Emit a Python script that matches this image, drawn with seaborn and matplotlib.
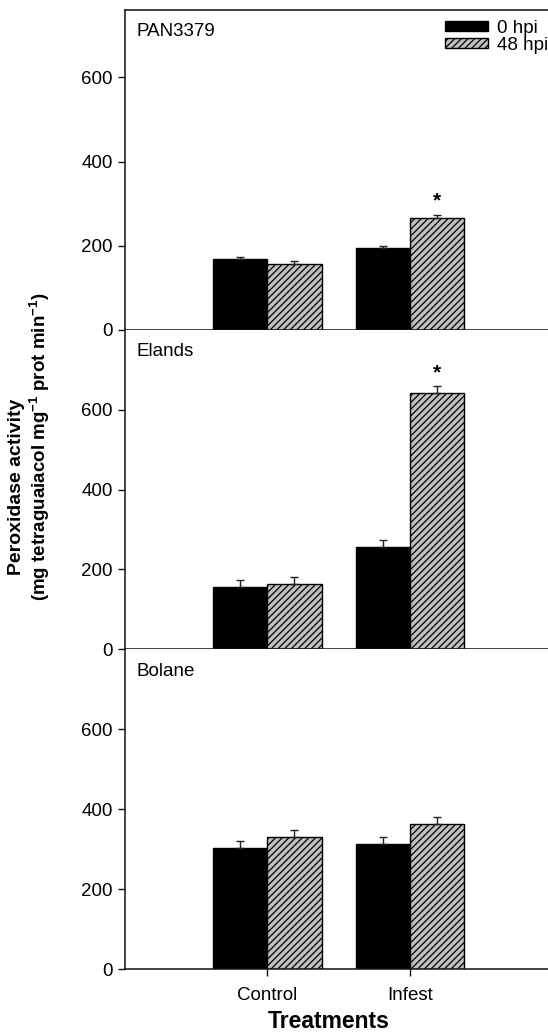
import numpy as np
import pandas as pd
import matplotlib
matplotlib.use("Agg")
import matplotlib.pyplot as plt
from matplotlib.patches import Patch
import seaborn as sns

# values (means and upper SE)
treatments = ["Control", "Infest"]
times = ["0 hpi", "48 hpi"]
cultivars = ["PAN3379", "Elands", "Bolane"]

pan_0 = [168, 194]
pan_48 = [157, 267]
pan_0_err = [5, 5]
pan_48_err = [6, 6]

elands_0 = [155, 256]
elands_48 = [162, 641]
elands_0_err = [17, 17]
elands_48_err = [19, 18]

bolane_0 = [302, 312]
bolane_48 = [329, 362]
bolane_0_err = [18, 18]
bolane_48_err = [18, 18]

# significant bars (cultivar, treatment) for the 48 hpi series
stars = [("PAN3379", "Infest"), ("Elands", "Infest")]

yticks = [0, 200, 400, 600]
ylims = {"PAN3379": 760, "Elands": 800, "Bolane": 800}


def make_df():
    rows = []
    series = {
        "PAN3379": (pan_0, pan_48, pan_0_err, pan_48_err),
        "Elands": (elands_0, elands_48, elands_0_err, elands_48_err),
        "Bolane": (bolane_0, bolane_48, bolane_0_err, bolane_48_err),
    }
    for cv in cultivars:
        v0, v48, e0, e48 = series[cv]
        for i, t in enumerate(treatments):
            rows.append([cv, t, "0 hpi", v0[i], e0[i]])
            rows.append([cv, t, "48 hpi", v48[i], e48[i]])
    return pd.DataFrame(rows, columns=["cultivar", "treatment", "time", "value", "err"])


df = make_df()

sns.set_style("ticks")
plt.rcParams["font.family"] = ["Liberation Sans", "DejaVu Sans"]
plt.rcParams["text.color"] = "black"
plt.rcParams["xtick.color"] = "black"
plt.rcParams["ytick.color"] = "black"
plt.rcParams["axes.labelcolor"] = "black"
plt.rcParams["mathtext.fontset"] = "custom"
plt.rcParams["mathtext.rm"] = "Liberation Sans"
plt.rcParams["mathtext.bf"] = "Liberation Sans:bold"
plt.rcParams["mathtext.default"] = "bf"
plt.rcParams["hatch.linewidth"] = 0.9
plt.rcParams["hatch.color"] = "black"

W, H = 548, 1033
fig = plt.figure(figsize=(W / 100, H / 100), dpi=100)

# panel edges in pixels (top, bottom)
edges = [(10, 330), (330, 649), (649, 969)]
left = 125

palette = {"0 hpi": "black", "48 hpi": "#c0c0c0"}
spine_col = "#111111"
hatch = "/////"

for k, cv in enumerate(cultivars):
    top, bot = edges[k]
    ax = fig.add_axes([left / W, 1 - bot / H, 1 - left / W, (bot - top) / H])
    sub = df[df.cultivar == cv]
    sns.barplot(data=sub, x="treatment", y="value", hue="time", order=treatments,
                hue_order=times, palette=palette, width=0.76, gap=0,
                edgecolor="black", linewidth=1, errorbar=None, legend=False,
                saturation=1, ax=ax)

    bar_conts = list(ax.containers)
    for j, cont in enumerate(bar_conts):
        tm = times[j]
        for i, bar in enumerate(cont):
            row = sub[(sub.treatment == treatments[i]) & (sub.time == tm)].iloc[0]
            if tm == "48 hpi":
                bar.set_hatch(hatch)
            xc = bar.get_x() + bar.get_width() / 2
            ax.errorbar(xc, row.value, yerr=[[0], [row.err]], fmt="none",
                        ecolor="#222222", elinewidth=1, capsize=3.2, capthick=1)
            if tm == "48 hpi" and (cv, treatments[i]) in stars:
                ax.annotate("*", (xc, row.value + row.err), xytext=(0, 3),
                            textcoords="offset points", ha="center", va="bottom",
                            fontsize=15, fontweight="bold")

    ax.set_xlim(-1.0, 1.97)
    ax.set_ylim(0, ylims[cv])
    ax.set_yticks(yticks)
    ax.set_xlabel("")
    ax.set_ylabel("")
    ax.tick_params(axis="y", direction="out", length=5, width=1, color=spine_col,
                   labelsize=13.5, pad=4)
    for s in ax.spines.values():
        s.set_color(spine_col)
        s.set_linewidth(1.1)
    ax.spines["right"].set_visible(False)
    if k == 0:
        ax.spines["top"].set_visible(True)
    else:
        ax.spines["top"].set_visible(False)
    if k < 2:
        ax.tick_params(axis="x", bottom=False, labelbottom=False)
    else:
        ax.tick_params(axis="x", direction="out", length=5, width=1, color=spine_col,
                       labelsize=13.5, pad=8)

    ax.text(11 / (W - left), 1 - 22 / (bot - top), cv, transform=ax.transAxes,
            ha="left", va="center", fontsize=13.5)

    if k == 0:
        handles = [Patch(facecolor="black", edgecolor="black", label="0 hpi"),
                   Patch(facecolor="#c0c0c0", edgecolor="black", hatch=hatch,
                         label="48 hpi")]
        ax.legend(handles=handles, loc="upper right", bbox_to_anchor=(1.0, 0.97),
                  frameon=False, fontsize=13.5, borderpad=0, borderaxespad=0,
                  handlelength=2.3, handleheight=0.45, handletextpad=0.45,
                  labelspacing=0.0)

fig.text(17 / W, 1 - 487 / H, "Peroxidase activity", rotation=90, ha="center",
         va="center", fontsize=14, fontweight="bold")
fig.text(40 / W, 1 - 447 / H, r"(mg tetraguaiacol mg$^{-1}$ prot min$^{-1}$)",
         rotation=90, ha="center", va="center", fontsize=13.5, fontweight="bold")
fig.text(329 / W, 1 - 1021 / H, "Treatments", ha="center", va="center",
         fontsize=16.5, fontweight="bold")

fig.savefig("out.png", dpi=100)
